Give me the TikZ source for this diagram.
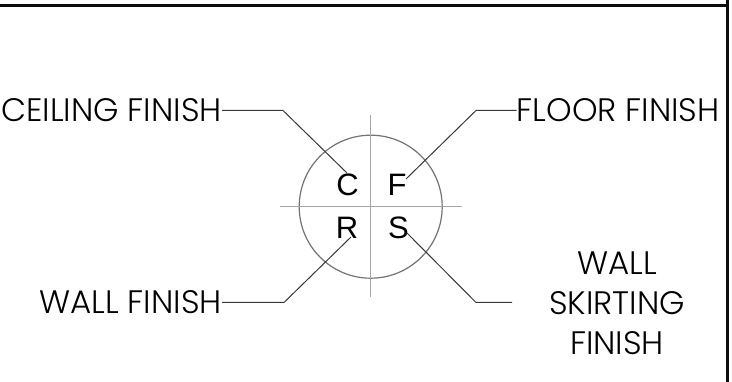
\documentclass[tikz,border=0pt]{standalone}
\usepackage{fontspec}
\setmainfont{Poppins}[UprightFont=* Light]
\newfontfamily\letterfont{Liberation Sans}
\tikzset{
  x=1pt,y=-1pt,
  lbl/.style={inner sep=0pt,font=\fontsize{32.5}{40}\selectfont,text=black,align=center},
  letter/.style={inner sep=0pt,font=\letterfont\fontsize{31}{31}\selectfont,text=black},
  frameline/.style={line width=2.7pt,draw=black!95},
  axis/.style={line width=1.1pt,draw=black!35},
  ring/.style={line width=1.2pt,draw=black!55},
  leader/.style={line width=1pt,draw=black!78},
}
\begin{document}
\begin{tikzpicture}
\useasboundingbox (0,0) rectangle (732,382);
\draw[frameline] (0,5.5) -- (727.7,5.5);
\draw[frameline] (727.7,0) -- (727.7,382);
\node[draw=none,minimum size=0pt,inner sep=0pt] (centre) at (370.7,206.7) {};
\draw[ring] (centre) circle[radius=71.5];
\coordinate (vtop) at (370.7,115);
\coordinate (vbot) at (370.7,297);
\coordinate (hl) at (280,206.7);
\coordinate (hr) at (462,206.7);
\draw[axis] (vtop) -- (vbot);
\draw[axis] (hl) -- (hr);
\node[letter] (C) at (347.5,184.5) {C};
\node[letter] (F) at (397,184.5) {F};
\node[letter] (R) at (347,228) {R};
\node[letter] (S) at (398.5,227.5) {S};
\node[lbl,anchor=east] (ceil) at (222,110.5) {CEILING FINISH};
\node[lbl,anchor=west] (floor) at (516.5,110.5) {FLOOR FINISH};
\node[lbl,anchor=east] (wall) at (222,302.5) {WALL FINISH};
\node[lbl] (skirt) at (617,303) {WALL\\SKIRTING\\FINISH};
\coordinate (cE) at (347,173);
\coordinate (fE) at (406,179);
\coordinate (rE) at (351,237);
\coordinate (sE) at (407,233);
\draw[leader] (ceil.east) -- (283,110.5) -- (cE);
\draw[leader] (floor.west) -- (476,110.5) -- (fE);
\draw[leader] (wall.east) -- (284,302.5) -- (rE);
\draw[leader] (512,302.5) -- (476,302.5) -- (sE);
\end{tikzpicture}
\end{document}
